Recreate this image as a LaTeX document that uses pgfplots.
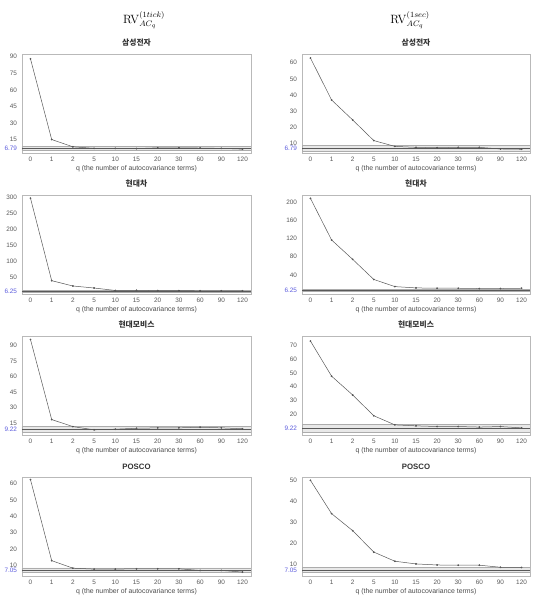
\documentclass[border=0pt]{standalone}
\usepackage[no-math]{fontspec}
\setmainfont{Liberation Sans}
\newfontfamily\kr{Noto Sans CJK KR}
\usepackage{pgfplots}
\pgfplotsset{compat=1.18}
\definecolor{tickblue}{RGB}{90,90,220}
\pgfplotsset{
  panel/.style={
    scale only axis, width=229pt, height=99pt, anchor=north west,
    xmin=-0.4, xmax=10.4, xtick={0,...,10},
    xticklabels={0,1,2,5,10,15,20,30,60,90,120},
    axis line style={gray!55, line width=0.6pt},
    tick style={draw=none},
    /pgf/number format/assume math mode=true,
    ticklabel style={font=\fontsize{6.4}{7}\selectfont, text=black!65},
    yticklabel style={xshift=-1.5pt},
    xticklabel style={yshift=-0.5pt},
    xlabel={q (the number of autocovariance terms)},
    xlabel style={at={(axis description cs:0.5,0)}, anchor=center, yshift=-16pt, font=\fontsize{6.9}{7.5}\selectfont, text=black!70},
    title style={at={(axis description cs:0.5,1)}, anchor=south, inner sep=1.5pt, font=\kr\bfseries\fontsize{7.8}{8.5}\selectfont, text=black!80},
    extra y tick style={yticklabel style={text=tickblue}, grid=none},
  },
  series/.style={black!65, line width=0.5pt, mark=*, mark size=0.6pt, mark options={fill=black}},
  band/.style={draw=gray!65, line width=0.4pt, fill=gray!18},
  bench/.style={gray!70!black, line width=0.4pt},
}
\begin{document}
\begin{tikzpicture}[x=1pt,y=1pt]
\path[use as bounding box] (0,0) rectangle (540,599);
\node[font=\fontsize{11.5}{13}\selectfont] at (144,579) {$\mathrm{RV}^{(1tick)}_{AC_q}$};
\node[font=\fontsize{11.5}{13}\selectfont] at (410,579) {$\mathrm{RV}^{(1sec)}_{AC_q}$};

% Row 1: Samsung
\begin{axis}[panel, at={(22pt,545pt)}, title={삼성전자},
  ymin=2.8, ymax=92.5, ytick={15,30,45,60,75,90}, extra y ticks={6.79}]
\addplot[band] coordinates {(-0.4,4.9) (10.4,4.9) (10.4,8.7) (-0.4,8.7) (-0.4,4.9)};
\addplot[bench] coordinates {(-0.4,6.79) (10.4,6.79)};
\addplot[series] coordinates {(0,88.1) (1,15.0) (2,8.4) (3,7.0) (4,7.0) (5,6.8) (6,7.5) (7,7.5) (8,7.3) (9,7.0) (10,6.3)};
\end{axis}
\begin{axis}[panel, width=228pt, at={(302pt,545pt)}, title={삼성전자},
  ymin=4.0, ymax=65.4, ytick={10,20,30,40,50,60}, extra y ticks={6.79}]
\addplot[band] coordinates {(-0.4,4.9) (10.4,4.9) (10.4,8.7) (-0.4,8.7) (-0.4,4.9)};
\addplot[bench] coordinates {(-0.4,6.79) (10.4,6.79)};
\addplot[series] coordinates {(0,62.9) (1,36.9) (2,24.5) (3,11.7) (4,8.1) (5,7.5) (6,7.3) (7,7.5) (8,7.5) (9,6.5) (10,6.3)};
\end{axis}

% Row 2: Hyundai Motor
\begin{axis}[panel, at={(22pt,404pt)}, title={현대차},
  ymin=-2, ymax=307, ytick={50,100,150,200,250,300}, extra y ticks={6.25}]
\addplot[band] coordinates {(-0.4,3.8) (10.4,3.8) (10.4,8.7) (-0.4,8.7) (-0.4,3.8)};
\addplot[bench] coordinates {(-0.4,6.25) (10.4,6.25)};
\addplot[series] coordinates {(0,297) (1,39.6) (2,23) (3,16.7) (4,9.0) (5,9.5) (6,8.5) (7,8.5) (8,8.0) (9,8.0) (10,8.0)};
\end{axis}
\begin{axis}[panel, width=228pt, at={(302pt,404pt)}, title={현대차},
  ymin=-2, ymax=216, ytick={40,80,120,160,200}, extra y ticks={6.25}]
\addplot[band] coordinates {(-0.4,3.8) (10.4,3.8) (10.4,8.7) (-0.4,8.7) (-0.4,3.8)};
\addplot[bench] coordinates {(-0.4,6.25) (10.4,6.25)};
\addplot[series] coordinates {(0,208.6) (1,117) (2,74.3) (3,30) (4,14.3) (5,11.4) (6,10.7) (7,10.7) (8,10.0) (9,10.0) (10,10.7)};
\end{axis}

% Row 3: Hyundai Mobis
\begin{axis}[panel, at={(22pt,263pt)}, title={현대모비스},
  ymin=3.5, ymax=99, ytick={15,30,45,60,75,90}, extra y ticks={9.22}]
\addplot[band] coordinates {(-0.4,6.5) (10.4,6.5) (10.4,12.1) (-0.4,12.1) (-0.4,6.5)};
\addplot[bench] coordinates {(-0.4,9.22) (10.4,9.22)};
\addplot[series] coordinates {(0,95.6) (1,18.4) (2,11.6) (3,8.5) (4,9.1) (5,10.0) (6,10.4) (7,10.4) (8,11.0) (9,10.4) (10,9.5)};
\end{axis}
\begin{axis}[panel, width=228pt, at={(302pt,263pt)}, title={현대모비스},
  ymin=4.5, ymax=77, ytick={20,30,40,50,60,70}, extra y ticks={9.22}]
\addplot[band] coordinates {(-0.4,6.5) (10.4,6.5) (10.4,12.1) (-0.4,12.1) (-0.4,6.5)};
\addplot[bench] coordinates {(-0.4,9.22) (10.4,9.22)};
\addplot[series] coordinates {(0,73.3) (1,47.6) (2,33.8) (3,18.6) (4,11.9) (5,11.2) (6,10.7) (7,10.7) (8,10.3) (9,10.7) (10,9.7)};
\end{axis}

% Row 4: POSCO
\begin{axis}[panel, at={(22pt,122pt)}, title={POSCO}, title style={font=\bfseries\fontsize{7.8}{8.5}\selectfont},
  ymin=3.4, ymax=64, ytick={10,20,30,40,50,60}, extra y ticks={7.05}]
\addplot[band] coordinates {(-0.4,5.9) (10.4,5.9) (10.4,8.3) (-0.4,8.3) (-0.4,5.9)};
\addplot[bench] coordinates {(-0.4,7.05) (10.4,7.05)};
\addplot[series] coordinates {(0,62.4) (1,12.8) (2,8.2) (3,7.6) (4,7.6) (5,7.8) (6,7.8) (7,7.8) (8,6.8) (9,6.8) (10,5.8)};
\end{axis}
\begin{axis}[panel, width=228pt, at={(302pt,122pt)}, title={POSCO}, title style={font=\bfseries\fontsize{7.8}{8.5}\selectfont},
  ymin=4.2, ymax=51.8, ytick={10,20,30,40,50}, extra y ticks={7.05}]
\addplot[band] coordinates {(-0.4,5.9) (10.4,5.9) (10.4,8.3) (-0.4,8.3) (-0.4,5.9)};
\addplot[bench] coordinates {(-0.4,7.05) (10.4,7.05)};
\addplot[series] coordinates {(0,50.2) (1,34.2) (2,26.0) (3,15.7) (4,11.3) (5,10.0) (6,9.5) (7,9.4) (8,9.4) (9,8.4) (10,8.3)};
\end{axis}
\end{tikzpicture}
\end{document}
